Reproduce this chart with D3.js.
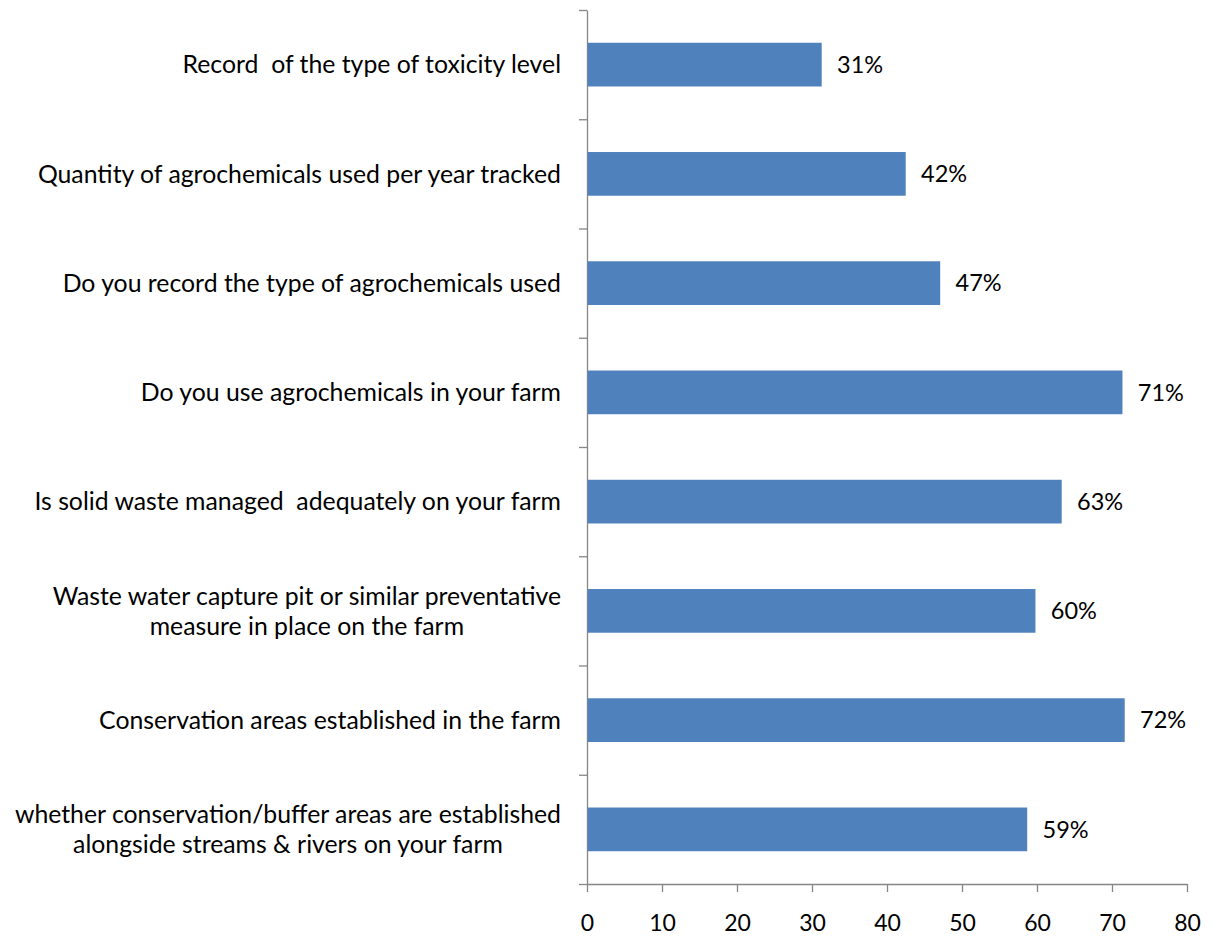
<!DOCTYPE html>
<html>
<head>
<meta charset="utf-8">
<script src="https://cdn.jsdelivr.net/npm/d3@7"></script>
<style>
	body { margin: 0; background: #fff; }
	.cat-label, .val-label, .x-axis text { font-family: Lato, "Open Sans", sans-serif; fill: #000; }
	.cat-label { font-size: 24.8px; white-space: pre; }
	.val-label { font-size: 23.5px; }
	.x-axis text { font-size: 23px; }
	.axis path, .axis line { stroke: #868686; stroke-width: 1.3; }
</style>
</head>
<body>
<div id="chart"></div>
<script>
	//Category labels (one entry per line of text), top to bottom
	var categories = [
		["Record  of the type of toxicity level"],
		["Quantity of agrochemicals used per year tracked"],
		["Do you record the type of agrochemicals used"],
		["Do you use agrochemicals in your farm"],
		["Is solid waste managed  adequately on your farm"],
		["Waste water capture pit or similar preventative", "measure in place on the farm"],
		["Conservation areas established in the farm"],
		["whether conservation/buffer areas are established", "alongside streams & rivers on your farm"]
	];
	//Percentages
	var values = [31.2, 42.4, 47.0, 71.3, 63.2, 59.7, 71.6, 58.6];
	var xTicks = [0, 10, 20, 30, 40, 50, 60, 70, 80];

	///////////////////////////////////////////////////////////////////////////
	//////////////////////////// Set up the SVG ///////////////////////////////
	///////////////////////////////////////////////////////////////////////////

	var margin = { top: 10, right: 26, bottom: 55, left: 587 };
	var width = 1213 - margin.left - margin.right;
	var height = 939 - margin.top - margin.bottom;

	var svg = d3.select("#chart")
		.append("svg")
		.attr("width", 1213)
		.attr("height", 939)
		.append("g")
		.attr("transform", "translate(" + margin.left + "," + margin.top + ")");

	var data = categories.map(function(c, i) { return { lines: c, value: values[i], idx: i }; });

	///////////////////////////////////////////////////////////////////////////
	//////////////////////////////// Scales ///////////////////////////////////
	///////////////////////////////////////////////////////////////////////////

	var x = d3.scaleLinear().domain([0, 80]).range([0, width]);

	var y = d3.scaleBand()
		.domain(data.map(function(d) { return d.idx; }))
		.range([0, height])
		.paddingInner(0.6)
		.paddingOuter(0.3);

	//Boundaries between categories, for the y-axis tick marks
	var yEdge = d3.scaleLinear().domain([0, categories.length]).range([0, height]);

	///////////////////////////////////////////////////////////////////////////
	//////////////////////////////// Axes /////////////////////////////////////
	///////////////////////////////////////////////////////////////////////////

	svg.append("g")
		.attr("class", "axis x-axis")
		.attr("transform", "translate(0," + height + ")")
		.call(d3.axisBottom(x).tickValues(xTicks).tickSize(8).tickSizeOuter(0).tickPadding(23))
		.call(function(g) { g.selectAll("text").attr("dy", "0.71em"); });

	svg.append("g")
		.attr("class", "axis y-axis")
		.call(d3.axisLeft(yEdge).tickValues(d3.range(categories.length + 1)).tickSize(8).tickSizeOuter(0).tickFormat(""));

	///////////////////////////////////////////////////////////////////////////
	//////////////////////////////// Bars /////////////////////////////////////
	///////////////////////////////////////////////////////////////////////////

	svg.selectAll(".bar")
		.data(data)
		.enter().append("rect")
		.attr("class", "bar")
		.attr("x", x(0) + 0.7)
		.attr("y", function(d) { return y(d.idx); })
		.attr("width", function(d) { return x(d.value) - x(0); })
		.attr("height", y.bandwidth())
		.style("fill", "#4F81BD");

	svg.selectAll(".val-label")
		.data(data)
		.enter().append("text")
		.attr("class", "val-label")
		.attr("x", function(d) { return x(d.value) + 16; })
		.attr("y", function(d) { return y(d.idx) + y.bandwidth() / 2; })
		.attr("dy", "0.35em")
		.text(function(d) { return Math.round(d.value) + "%"; });

	//Category labels, right aligned next to the axis
	var lineHeight = 30;
	var catLabel = svg.selectAll(".cat-label")
		.data(data)
		.enter().append("text")
		.attr("class", "cat-label")
		.attr("text-anchor", "middle")
		.attr("transform", function(d) {
			return "translate(" + (-26) + "," + (y(d.idx) + y.bandwidth() / 2) + ")";
		});

	catLabel.each(function(d) {
		var el = d3.select(this);
		var n = d.lines.length;
		var spans = el.selectAll("tspan")
			.data(d.lines)
			.enter().append("tspan")
			.attr("x", 0)
			.attr("y", function(l, i) { return (i - (n - 1) / 2) * lineHeight; })
			.attr("dy", "0.35em")
			.text(function(l) { return l; });
		//Multi-line labels are centred as a block that is right aligned
		var widest = d3.max(spans.nodes(), function(s) { return s.getComputedTextLength(); });
		spans.attr("x", -widest / 2);
	});
</script>
</body>
</html>
